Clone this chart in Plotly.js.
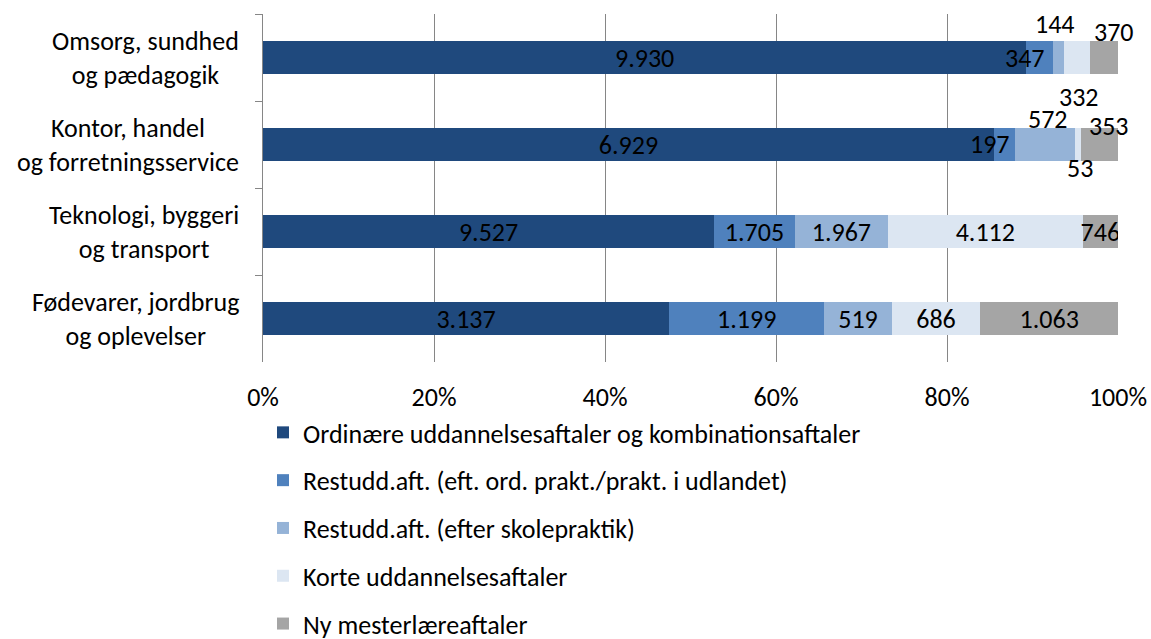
<!DOCTYPE html>
<html>
<head>
<meta charset="utf-8">
<script src="https://cdn.plot.ly/plotly-3.0.1.min.js"></script>
<style>
  html, body { margin: 0; padding: 0; background: #fff; }
  #chart { width: 1151px; height: 639px; }
</style>
</head>
<body>
<div id="chart"></div>
<script>
// categories top to bottom
const categories = [
    'Omsorg, sundhed<br>og pædagogik',
    'Kontor, handel<br>og forretningsservice',
    'Teknologi, byggeri<br>og transport',
    'Fødevarer, jordbrug<br>og oplevelser'
];
const seriesNames = [
    'Ordinære uddannelsesaftaler og kombinationsaftaler',
    'Restudd.aft. (eft. ord. prakt./prakt. i udlandet)',
    'Restudd.aft. (efter skolepraktik)',
    'Korte uddannelsesaftaler',
    'Ny mesterlæreaftaler'
];
const ordinaere  = [9930, 6929, 9527, 3137];
const restOrd    = [347, 197, 1705, 1199];
const restSkole  = [144, 572, 1967, 519];
const korte      = [332, 53, 4112, 686];
const mester     = [370, 353, 746, 1063];

const seriesValues = [ordinaere, restOrd, restSkole, korte, mester];
const colors = ['#1F497D', '#4F81BD', '#95B3D7', '#DCE6F2', '#A5A5A5'];
const FONT = 'Carlito, Lato, "Open Sans", sans-serif';
const FS = 26;

// labels that Excel moved off the bar: [category index, series index, xshift, yshift]
const movedLabels = [
    [0, 1, -15, 0], [0, 2, -4, 34], [0, 3, 2, -39], [0, 4, 10, 26],
    [1, 1, -14, 1], [1, 2, 3, 26], [1, 3, 2, -23], [1, 4, 10, 19]
];

function fmt(v) {
    return String(v).replace(/\B(?=(\d{3})+(?!\d))/g, '.');
}
function isMoved(c, s) {
    return movedLabels.some(m => m[0] === c && m[1] === s);
}

const totals = categories.map((_, c) => seriesValues.reduce((sum, arr) => sum + arr[c], 0));

const traces = seriesValues.map((vals, s) => ({
    type: 'bar',
    orientation: 'h',
    name: seriesNames[s],
    legendgroup: 'g' + s,
    y: categories,
    x: vals,
    text: vals.map((v, c) => isMoved(c, s) ? '' : fmt(v)),
    textposition: 'inside',
    insidetextanchor: 'middle',
    constraintext: 'none',
    textfont: { family: FONT, size: FS, color: '#000' },
    insidetextfont: { family: FONT, size: FS, color: '#000' },
    marker: { color: colors[s], line: { width: 0 } },
    hoverinfo: 'skip'
}));

const annotations = [];
movedLabels.forEach(([c, s, dx, dy]) => {
    let before = 0;
    for (let k = 0; k < s; k++) before += seriesValues[k][c];
    const mid = (before + seriesValues[s][c] / 2) / totals[c];
    annotations.push({
        x: mid, y: categories[c], xref: 'x', yref: 'y',
        text: fmt(seriesValues[s][c]), showarrow: false,
        xshift: dx, yshift: dy,
        font: { family: FONT, size: FS, color: '#000' }
    });
});
// category labels, centred lines like the original
categories.forEach(cat => {
    annotations.push({
        x: 0, xref: 'paper', xanchor: 'right', xshift: -22,
        y: cat, yref: 'y', text: cat, showarrow: false, align: 'center',
        font: { family: FONT, size: FS, color: '#000' }
    });
});

const layout = {
    width: 1151, height: 639,
    margin: { l: 263, r: 33, t: 14, b: 277 },
    paper_bgcolor: '#fff', plot_bgcolor: '#fff',
    barmode: 'stack',
    barnorm: 'fraction',
    bargap: 0.61,
    constraintext: 'none',
    font: { family: FONT, size: FS, color: '#000' },
    xaxis: {
        range: [0, 1], dtick: 0.2, tickformat: '.0%',
        showgrid: true, gridcolor: '#868686', gridwidth: 1,
        zeroline: false, showline: false,
        ticks: 'outside', ticklen: 12, tickcolor: 'rgba(0,0,0,0)',
        tickfont: { family: FONT, size: FS, color: '#000' },
        fixedrange: true
    },
    yaxis: {
        type: 'category', autorange: false, range: [3.5, -0.5],
        showticklabels: false, tickson: 'boundaries',
        ticks: 'outside', ticklen: 7, tickcolor: '#868686',
        showline: true, linecolor: '#868686', linewidth: 1,
        showgrid: false, zeroline: false, fixedrange: true
    },
    showlegend: true,
    legend: {
        orientation: 'v', traceorder: 'grouped', tracegroupgap: 11,
        xref: 'paper', yref: 'container',
        x: 0, xanchor: 'left', y: 0.36, yanchor: 'top',
        font: { family: FONT, size: FS, color: '#000' },
        bgcolor: 'rgba(0,0,0,0)'
    },
    annotations: annotations
};

Plotly.newPlot('chart', traces, layout, { displayModeBar: false, staticPlot: true });
</script>
</body>
</html>
